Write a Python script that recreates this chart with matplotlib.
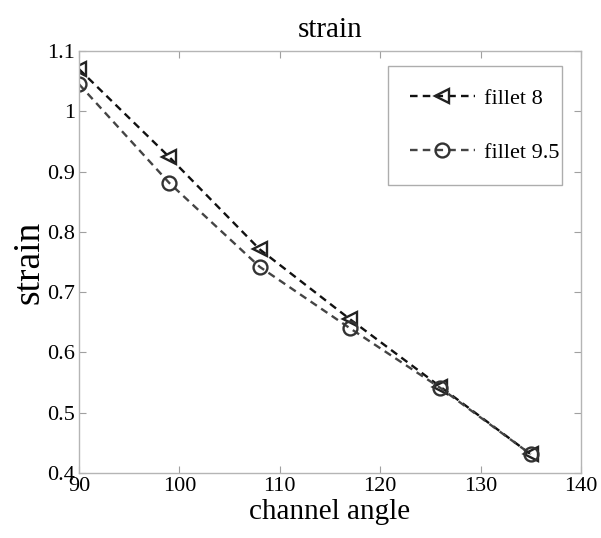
import numpy as np
import matplotlib
matplotlib.use('Agg')
import matplotlib.pyplot as plt

plt.rcParams['font.family'] = ['Liberation Serif', 'DejaVu Serif']

angle = [90, 99, 108, 117, 126, 135]
fillet8 = [1.07, 0.924, 0.771, 0.655, 0.543, 0.431]
fillet95 = [1.045, 0.881, 0.742, 0.640, 0.541, 0.431]
labels = ['fillet 8', 'fillet 9.5']

fig = plt.figure(figsize=(6.01, 5.38), dpi=100)
ax = fig.add_axes([0.1314, 0.1208, 0.8353, 0.7844])

ax.plot(angle, fillet8, color='#111111', lw=1.7, ls=(0, (3.2, 2.2)), marker='<',
        ms=10, mfc='none', mec='#222222', mew=1.7, label=labels[0])
ax.plot(angle, fillet95, color='#444444', lw=1.7, ls=(0, (3.2, 2.2)), marker='o',
        ms=10, mfc='none', mec='#333333', mew=1.7, label=labels[1])

ax.set_xlim(90, 140)
ax.set_ylim(0.4, 1.1)
ax.set_xticks(np.arange(90, 141, 10))
ax.set_yticks(np.arange(0.4, 1.11, 0.1))
ax.set_yticklabels(['0.4', '0.5', '0.6', '0.7', '0.8', '0.9', '1', '1.1'])

for s in ax.spines.values():
    s.set_color('#b5b5b5')
    s.set_linewidth(1.0)
ax.tick_params(direction='in', top=True, right=True, length=5, width=0.8,
               color='#a0a0a0', labelsize=16, labelcolor='black', pad=3)

ax.set_title('strain', fontsize=21, pad=10)
ax.set_xlabel('channel angle', fontsize=21, labelpad=2)
ax.set_ylabel('strain', fontsize=27, labelpad=0)

leg = ax.legend(loc='upper left', bbox_to_anchor=(0.6155, 0.6825, 0.3466, 0.282),
                mode='expand', fontsize=16, handlelength=2.9, handletextpad=0.4,
                labelspacing=1.5, borderpad=1.0, borderaxespad=0, fancybox=False)
leg.get_frame().set_edgecolor('#999999')
leg.get_frame().set_linewidth(1.0)

fig.savefig('out.png', dpi=100)
